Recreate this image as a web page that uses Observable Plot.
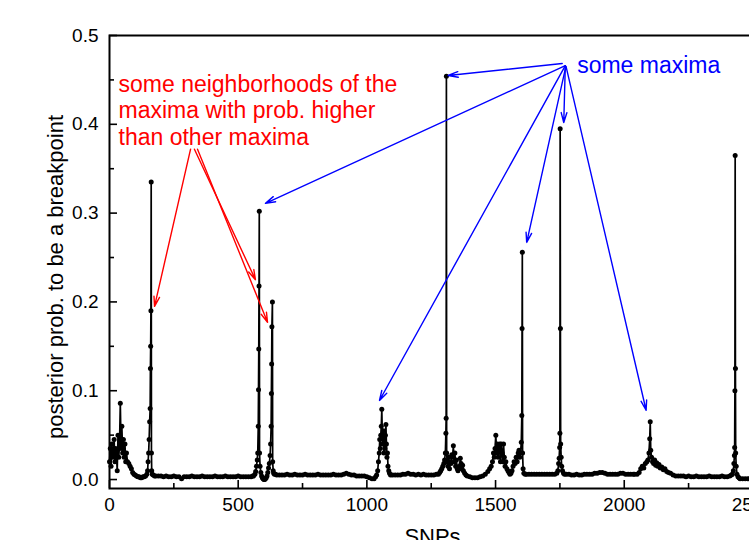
<!DOCTYPE html>
<html>
<head>
<meta charset="utf-8">
<script src="https://cdn.jsdelivr.net/npm/d3@7"></script>
<script src="https://cdn.jsdelivr.net/npm/@observablehq/plot@0.6"></script>
<style>
  html, body { margin: 0; padding: 0; overflow: hidden; background: #fff; width: 749px; height: 540px; }
  #chart { width: 800px; height: 540px; }
  #chart svg { display: block; max-width: none !important; width: 800px !important; height: 540px !important; }
</style>
</head>
<body>
<div id="chart"></div>
<script>
// ---- data: SNP index and posterior probability ----
const snp = [
  // 0-100 noisy start
  0,3,6,9,12,15,18,21,24,27, 30,33,36,39,42,45,48,51,54,57, 60,63,66,70,75,80,85,90,95,100,
  // peak near 162
  105,110,115,120,125,130,135,140,145,148, 150,152,154,156,158,159,160,161,162,163, 164,166,170,175,180,
  // baseline
  190,200,210,220,230,240,250,260,270,280, 290,300,310,320,330,340,350,360,370,380,
  390,400,410,420,430,440,450,460,470,480, 490,500,510,520,530,540,550,556,
  // twin peaks 582 / 633
  560,565,568,571,574,576,578,579,580,581, 582,583,585,588,591,594,597,600,603,606,
  609,612,615,618,621,624,626,628,629,630, 631,633,634,636,638,641,645,650,
  // baseline
  660,670,680,690,700,710,720,730,740,750, 760,770,780,790,800,810,820,830,840,850,
  860,870,880,890,900,910,920,930,940,950, 960,970,980,990,1000,1010,1020,1028,1034,
  // peak near 1058
  1038,1042,1045,1048,1050,1052,1054,1056,1058,1060, 1062,1064,1066,1068,1070,1072,1074,1076,1078,1080,
  1082,1085,1088,1092,
  // baseline
  1100,1110,1120,1130,1140,1150,1160,1170,1180,1190, 1200,1210,1220,1230,1240,1250,1260,1270,1278,
  // peak 1309 and cluster
  1283,1287,1291,1295,1299,1302,1305,1307,1308,1309, 1310,1312,1315,1318,1321,1324,1327,1330,1333,1336,
  1339,1342,1345,1348,1351,1354,1357,1360,1363,1366, 1369,1372,1375,1380,1385,1390,
  // cluster 1500 and peak 1604
  1400,1410,1420,1430,1440,1450,1460,1470,1477,1483, 1488,1492,1495,1498,1501,1504,1507,1510,1513,1516,
  1519,1522,1525,1528,1531,1534,1537,1540,1544,1548, 1552,1556,1560,1564,1568,1572,1576,1580,1584,1588,
  1591,1594,1597,1600,1602,1603,1604,1605,1607,1610, 1615,1620,
  // peak 1751
  1630,1640,1650,1660,1670,1680,1690,1700,1710,1720, 1730,1738,1742,1745,1747,1749,1750,1751,1752,1753,
  1755,1757,1760,1764,1768,
  // baseline
  1775,1785,1795,1805,1815,1825,1835,1845,1855,1865, 1875,1885,1895,1905,1915,1925,1935,1945,1955,1965,
  1975,1985,1995,2005,2015,2025,2035,
  // broad peak 2101
  2040,2050,2058,2064,2070,2076,2082,2088,2092,2096, 2099,2101,2103,2106,2110,2114,2118,2122,2126,2130,
  2135,2140,2146,2152,2158,2165,2172,2180,2190,2200, 2210,
  // baseline
  2220,2230,2240,2250,2260,2270,2280,2290,2300,2310, 2320,2330,2340,2350,2360,2370,2380,2390,2400,2410,
  // peak 2431
  2416,2420,2424,2426,2428,2429,2430,2431,2432,2433, 2435,2438,2442,2446,2450,2460,2470,2480,2490,2500
];
const prob = [
  0.02,0.035,0.015,0.04,0.025,0.03,0.045,0.02,0.035,0.03, 0.01,0.05,0.025,0.04,0.086,0.035,0.06,0.03,0.045,0.025,
  0.04,0.02,0.03,0.02,0.018,0.015,0.012,0.008,0.006,0.005,
  0.004,0.003,0.003,0.002,0.002,0.003,0.003,0.004,0.006,0.01, 0.02,0.03,0.045,0.065,0.08,0.125,0.15,0.19,0.335,0.03,
  0.01,0.006,0.005,0.004,0.004,
  0.004,0.004,0.003,0.004,0.003,0.003,0.004,0.003,0.003,0.001, 0.003,0.003,0.003,0.004,0.003,0.003,0.003,0.004,0.003,0.003,
  0.003,0.003,0.004,0.003,0.003,0.003,0.004,0.003,0.003,0.003, 0.003,0.004,0.003,0.003,0.003,0.003,0.003,0.004,
  0.004,0.006,0.009,0.015,0.022,0.03,0.06,0.101,0.147,0.218, 0.302,0.03,0.015,0.008,0.004,0.002,0.001,0.0,0.0,0.001,
  0.002,0.004,0.008,0.013,0.018,0.027,0.04,0.06,0.097,0.13, 0.172,0.2,0.02,0.01,0.007,0.006,0.006,0.005,
  0.005,0.005,0.005,0.006,0.005,0.005,0.006,0.005,0.005,0.005, 0.006,0.005,0.005,0.005,0.005,0.006,0.005,0.005,0.005,0.005,
  0.005,0.006,0.005,0.005,0.005,0.006,0.007,0.006,0.005,0.005, 0.004,0.004,0.004,0.004,0.003,0.002,0.001,0.001,0.003,
  0.005,0.01,0.02,0.03,0.045,0.035,0.05,0.06,0.079,0.05, 0.04,0.055,0.03,0.045,0.035,0.05,0.062,0.04,0.025,0.03,
  0.015,0.01,0.007,0.005,
  0.005,0.005,0.005,0.005,0.006,0.006,0.007,0.006,0.006,0.005, 0.006,0.005,0.006,0.005,0.005,0.005,0.005,0.006,0.006,
  0.008,0.01,0.012,0.015,0.018,0.022,0.03,0.052,0.069,0.454, 0.03,0.02,0.015,0.025,0.012,0.02,0.018,0.028,0.025,0.038,
  0.02,0.03,0.015,0.022,0.012,0.01,0.012,0.015,0.024,0.018, 0.012,0.016,0.01,0.007,0.005,0.004,
  0.003,0.002,0.002,0.002,0.003,0.004,0.006,0.009,0.012,0.015, 0.02,0.03,0.025,0.035,0.05,0.03,0.04,0.025,0.035,0.04,
  0.02,0.04,0.03,0.02,0.04,0.025,0.015,0.02,0.012,0.01, 0.008,0.006,0.007,0.01,0.015,0.02,0.018,0.025,0.02,0.03,
  0.033,0.025,0.03,0.042,0.072,0.17,0.256,0.03,0.012,0.007, 0.006,0.006,
  0.006,0.006,0.006,0.006,0.006,0.006,0.006,0.006,0.006,0.006, 0.006,0.007,0.01,0.018,0.024,0.036,0.052,0.395,0.17,0.04,
  0.025,0.015,0.01,0.007,0.006,
  0.006,0.006,0.005,0.005,0.006,0.005,0.005,0.006,0.006,0.006, 0.006,0.007,0.007,0.008,0.008,0.007,0.006,0.006,0.006,0.006,
  0.006,0.007,0.007,0.006,0.006,0.006,0.006,
  0.006,0.006,0.008,0.012,0.015,0.013,0.018,0.02,0.022,0.03, 0.046,0.065,0.033,0.025,0.02,0.018,0.022,0.016,0.019,0.015,
  0.017,0.013,0.014,0.011,0.012,0.009,0.008,0.007,0.005,0.004, 0.004,
  0.004,0.004,0.003,0.004,0.003,0.003,0.004,0.003,0.003,0.003, 0.003,0.004,0.003,0.003,0.003,0.003,0.004,0.003,0.003,0.004,
  0.005,0.006,0.01,0.018,0.027,0.036,0.1,0.365,0.125,0.03, 0.015,0.006,0.003,0.002,0.001,0.001,0.001,0.001,0.001,0.001
];
if (snp.length !== prob.length) console.error("length mismatch", snp.length, prob.length);

// ---- ticks ----
const xMajor = [0, 500, 1000, 1500, 2000, 2500];
const xMinor = [250, 750, 1250, 1750, 2250];
const yMajor = [0, 0.1, 0.2, 0.3, 0.4, 0.5];
const yMinor = [0.05, 0.15, 0.25, 0.35, 0.45];

// ---- texts ----
const xTitle = "SNPs";
const yTitle = "posterior prob. to be a breakpoint";
const redNote = "some neighborhoods of the\nmaxima with prob. higher\nthan other maxima";
const blueNote = "some maxima";
const redNoteAt = [35, 0.4575];
const blueNoteAt = [1817, 0.4578];

// ---- annotation arrows (data coordinates: from -> to) ----
const redFromX = [315, 330, 342];
const redFromY = [0.372, 0.372, 0.372];
const redToX = [175, 567, 614];
const redToY = [0.195, 0.225, 0.177];

const blueFromX = [1759, 1771, 1771, 1773, 1771, 1774];
const blueFromY = [0.4685, 0.466, 0.466, 0.465, 0.466, 0.465];
const blueToX = [1316, 606, 1049, 1621, 1765, 2085];
const blueToY = [0.455, 0.311, 0.089, 0.267, 0.402, 0.078];

const n = snp.length;
const idx = d3.range(n);
const font = "'Liberation Sans', Arial, Helvetica, sans-serif";

const chart = Plot.plot({
  width: 800,
  height: 540,
  marginLeft: 109,
  marginRight: 45,
  marginTop: 35,
  marginBottom: 52,
  x: {domain: [0, 2510]},
  y: {domain: [-0.0101, 0.5]},
  style: {fontFamily: font, background: "#fff", color: "#000", maxWidth: "none"},
  marks: [
    Plot.line(idx, {x: i => snp[i], y: i => prob[i], stroke: "#000", strokeWidth: 1.7}),
    Plot.dot(idx, {x: i => snp[i], y: i => prob[i], r: 2.5, fill: "#000", stroke: null}),
    Plot.frame({stroke: "#000", strokeWidth: 2}),
    Plot.axisX(xMajor, {tickSize: -8, tickPadding: 17, fontSize: 19, strokeWidth: 1.6, tickFormat: d => String(d), label: null}),
    Plot.axisX(xMinor, {tickSize: -5, tickPadding: 0, strokeWidth: 1.6, tickFormat: () => "", label: null}),
    Plot.axisY(yMajor, {tickSize: -8, tickPadding: 19, fontSize: 19, strokeWidth: 1.6, tickFormat: d3.format(".1f"), label: null}),
    Plot.axisY(yMinor, {tickSize: -5, tickPadding: 0, strokeWidth: 1.6, tickFormat: () => "", label: null}),
    Plot.text([yTitle], {frameAnchor: "left", textAnchor: "middle", rotate: -90, dx: -54, dy: 15, fontSize: 22, fill: "#000"}),
    Plot.text([xTitle], {frameAnchor: "bottom", textAnchor: "middle", lineAnchor: "top", dy: 40, fontSize: 22, fill: "#000"}),
    Plot.arrow(d3.range(redToX.length), {
      x1: i => redFromX[i], y1: i => redFromY[i], x2: i => redToX[i], y2: i => redToY[i],
      stroke: "#ff0000", strokeWidth: 1.4, headLength: 11, headAngle: 32
    }),
    Plot.arrow(d3.range(blueToX.length), {
      x1: i => blueFromX[i], y1: i => blueFromY[i], x2: i => blueToX[i], y2: i => blueToY[i],
      stroke: "#0000ff", strokeWidth: 1.4, headLength: 11, headAngle: 32
    }),
    Plot.text([redNote], {x: redNoteAt[0], y: redNoteAt[1], textAnchor: "start", lineAnchor: "top", lineHeight: 1.15, fontSize: 23, fill: "#ff0000"}),
    Plot.text([blueNote], {x: blueNoteAt[0], y: blueNoteAt[1], textAnchor: "start", lineAnchor: "bottom", fontSize: 23, fill: "#0000ff"})
  ]
});
document.getElementById("chart").appendChild(chart);
</script>
</body>
</html>
